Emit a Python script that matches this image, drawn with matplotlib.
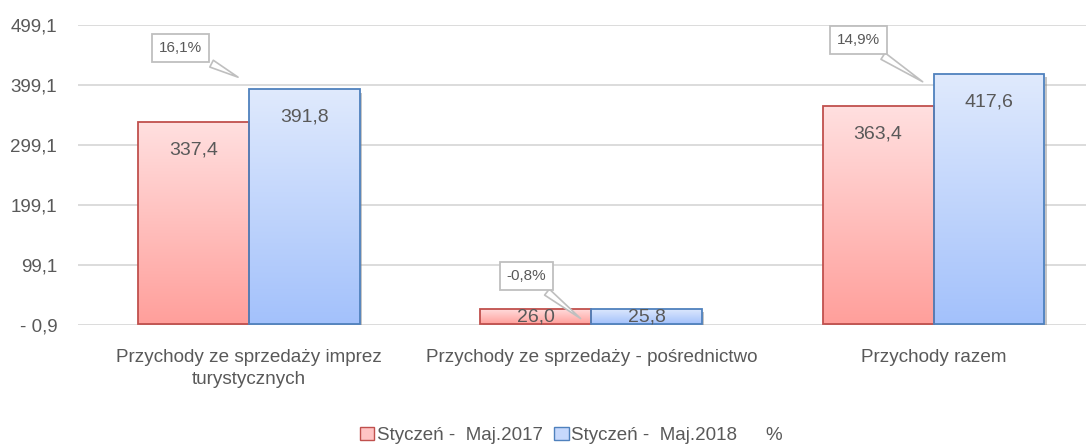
import numpy as np
import matplotlib
matplotlib.use('Agg')
from matplotlib import pyplot as plt
from matplotlib.patches import Patch
import matplotlib.patheffects as pe

categories = ['Przychody ze sprzedaży imprez\nturystycznych',
              'Przychody ze sprzedaży - pośrednictwo',
              'Przychody razem']
series_names = ['Styczeń -  Maj.2017', 'Styczeń -  Maj.2018', '%']
values_2017 = [337.4, 26.0, 363.4]
values_2018 = [391.8, 25.8, 417.6]
change_pct = [16.1, -0.8, 14.9]
yticks = [-0.9, 99.1, 199.1, 299.1, 399.1, 499.1]

plt.rcParams['font.family'] = ['Liberation Sans', 'DejaVu Sans']
grey = '#595959'

def fmt(v):
    return f'{v:.1f}'.replace('.', ',')

fig = plt.figure(figsize=(10.86, 4.45), dpi=100)
ax = fig.add_axes([0.0718, 0.2697, 0.9454, 0.6741])

x = np.arange(len(categories))
w = 0.324

def grad_bars(xpos, vals, top_col, bot_col, edge):
    # shadow underneath
    sh = ax.bar(xpos, vals, w, facecolor='white', edgecolor='none', zorder=1.5)
    for b in sh:
        b.set_path_effects([pe.SimplePatchShadow(offset=(1.5, -2.5), shadow_rgbFace='#808080', alpha=0.45), pe.Normal()])
    bars = ax.bar(xpos, vals, w, facecolor='none', edgecolor=edge, linewidth=1.3, zorder=3)
    cmap = matplotlib.colors.LinearSegmentedColormap.from_list('g', [bot_col, top_col])
    for b in bars:
        x0, y0 = b.get_x(), b.get_y()
        bw, bh = b.get_width(), b.get_height()
        grad = np.linspace(0, 1, 256).reshape(-1, 1)
        im = ax.imshow(grad, cmap=cmap, origin='lower', aspect='auto',
                       extent=[x0, x0 + bw, y0, y0 + bh], zorder=2)
        im.set_clip_path(b)
    return bars

b1 = grad_bars(x - w / 2, values_2017, '#ffe0e0', '#ff9f9b', '#c0504d')
b2 = grad_bars(x + w / 2, values_2018, '#e0eafd', '#a3c1fb', '#4f81bd')

for bars, vals in ((b1, values_2017), (b2, values_2018)):
    for b, v in zip(bars, vals):
        off = -14 if v > 50 else 0
        ax.annotate(fmt(v), (b.get_x() + b.get_width() / 2, v), xytext=(0, off),
                    textcoords='offset points', ha='center', va='top',
                    fontsize=14, color=grey, zorder=5)

# callouts for % change (tip value, box x offset, box value)
callout_pos = [(410, -0.2, 461), (7, -0.19, 81), (402, -0.22, 474)]
for i, pct in enumerate(change_pct):
    tip, dx, by = callout_pos[i]
    ax.annotate(fmt(pct) + '%', xy=(i - 0.025, tip), xytext=(i + dx, by),
                ha='center', va='center', fontsize=11, color=grey, zorder=6,
                bbox=dict(boxstyle='square,pad=0.45', fc='white', ec='#bfbfbf', lw=1.3),
                arrowprops=dict(arrowstyle='wedge,tail_width=0.5,shrink_factor=0.5',
                                fc='white', ec='#bfbfbf', lw=1.2))

ax.set_xlim(-0.5, 2.5)
ax.set_ylim(-0.9, 499.1)
ax.set_yticks(yticks)
ax.set_yticklabels(['- 0,9'] + [fmt(t) for t in yticks[1:]])
ax.set_xticks(x)
ax.set_xticklabels(categories, linespacing=1.45, fontsize=13.6)
ax.tick_params(axis='both', length=0, colors=grey)
ax.tick_params(axis='y', labelsize=13.5, pad=15)
ax.tick_params(axis='x', pad=17)
ax.grid(axis='y', color='#d9d9d9', linewidth=1.3, zorder=0)
ax.set_axisbelow(True)
for s in ax.spines.values():
    s.set_visible(False)

handles = [Patch(fc='#ffc4c4', ec='#c0504d'), Patch(fc='#c6d8fc', ec='#4f81bd'),
           Patch(fc='none', ec='none')]
fig.legend(handles, series_names, loc='center', bbox_to_anchor=(0.526, 0.022), ncol=3,
           frameon=False, fontsize=13.5, labelcolor=grey, handlelength=0.75,
           handleheight=0.75, handletextpad=0.15, columnspacing=0.6)

fig.savefig('out.png', dpi=100)
